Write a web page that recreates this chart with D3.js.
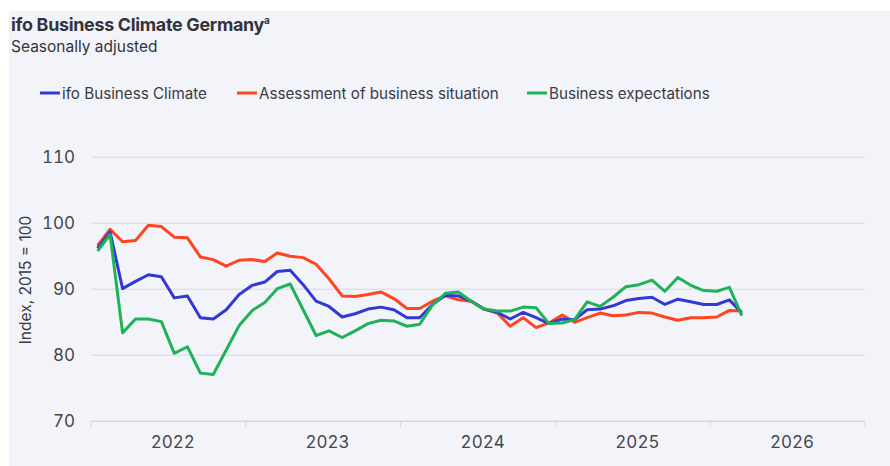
<!DOCTYPE html>
<html>
<head>
<meta charset="utf-8">
<script src="https://cdn.jsdelivr.net/npm/d3@7"></script>
<style>
  body { margin: 0; background: #fff; }
  svg { display: block; font-family: Inter, "Noto Sans", sans-serif; }
  .num { font-variant-numeric: tabular-nums; font-feature-settings: "tnum" 1; }
</style>
</head>
<body>
<svg id="chart"></svg>
<script>
// Monthly readings, Jan 2022 .. Mar 2026 (index, 2015 = 100)
const startYear = 2022;
const climate = [
  96.2, 98.7, 90.1, 91.2, 92.2, 91.9, 88.7, 89.0, 85.7, 85.5, 86.9, 89.2,
  90.6, 91.1, 92.7, 92.9, 90.7, 88.2, 87.4, 85.8, 86.3, 87.0, 87.3, 86.9,
  85.7, 85.7, 87.7, 89.1, 89.0, 88.2, 87.0, 86.5, 85.5, 86.5, 85.7, 84.8,
  85.5, 85.4, 86.9, 87.0, 87.5, 88.3, 88.6, 88.8, 87.7, 88.5, 88.1, 87.7,
  87.7, 88.4, 86.4
];
const situation = [
  96.6, 99.1, 97.2, 97.4, 99.7, 99.5, 97.9, 97.8, 94.9, 94.5, 93.5, 94.4,
  94.5, 94.2, 95.5, 95.0, 94.8, 93.8, 91.6, 89.0, 88.9, 89.2, 89.6, 88.6,
  87.1, 87.1, 88.2, 89.0, 88.4, 88.2, 87.0, 86.4, 84.4, 85.7, 84.2, 84.9,
  86.1, 85.0, 85.7, 86.4, 86.0, 86.1, 86.5, 86.4, 85.8, 85.3, 85.7, 85.7,
  85.8, 86.8, 86.7
];
const expectations = [
  95.8, 98.3, 83.4, 85.5, 85.5, 85.1, 80.3, 81.3, 77.3, 77.1, 80.8, 84.5,
  86.8, 88.0, 90.1, 90.8, 86.9, 83.0, 83.7, 82.7, 83.7, 84.8, 85.3, 85.2,
  84.4, 84.7, 87.6, 89.4, 89.6, 88.2, 87.0, 86.7, 86.7, 87.3, 87.2, 84.8,
  84.9, 85.4, 88.1, 87.4, 88.8, 90.4, 90.7, 91.4, 89.7, 91.8, 90.6, 89.8,
  89.7, 90.3, 86.0
];
const yTicks = [70, 80, 90, 100, 110];
const years = [2022, 2023, 2024, 2025, 2026];

const series = [
  { name: "Assessment of business situation", values: situation, color: "#ff4421" },
  { name: "ifo Business Climate", values: climate, color: "#3438d4" },
  { name: "Business expectations", values: expectations, color: "#20b25a" }
];
const legendOrder = [series[1], series[0], series[2]];

const W = 890, H = 466;
const margin = { top: 157, right: 25, bottom: 45, left: 91 };

const svg = d3.select("#chart").attr("width", W).attr("height", H);

// panel background
svg.append("rect")
  .attr("x", 9).attr("y", 11)
  .attr("width", W - 9).attr("height", H - 11)
  .attr("fill", "#f3f4f9");

// title
const title = svg.append("text")
  .attr("x", 11).attr("y", 31)
  .attr("fill", "#33343d")
  .attr("font-size", 17.9)
  .attr("font-weight", 700)
  .attr("letter-spacing", -0.3)
  .text("ifo Business Climate Germany");
title.append("tspan")
  .attr("font-size", 10)
  .attr("dy", -7)
  .text("a");

svg.append("text")
  .attr("x", 11).attr("y", 52)
  .attr("fill", "#33343d")
  .attr("font-size", 15.5)
  .text("Seasonally adjusted");

// legend
const legendX = [40, 237, 527];
const legend = svg.selectAll(".legend")
  .data(legendOrder)
  .enter()
  .append("g")
  .attr("class", "legend")
  .attr("transform", (d, i) => `translate(${legendX[i]},93)`);
legend.append("line")
  .attr("x1", 0).attr("x2", 20)
  .attr("stroke", (d) => d.color)
  .attr("stroke-width", 3);
legend.append("text")
  .attr("x", 22).attr("y", 6)
  .attr("fill", "#3a3b44")
  .attr("font-size", 15.2)
  .text((d) => d.name);

// scales
const x = d3.scaleTime()
  .domain([new Date(2022, 0, 1), new Date(2027, 0, 1)])
  .range([margin.left, W - margin.right]);

const y = d3.scaleLinear()
  .domain([70, 110])
  .range([421.3, 157.3]);

const dateOf = (i) => {
  const a = new Date(startYear, i, 1), b = new Date(startYear, i + 1, 1);
  return new Date((+a + +b) / 2);
};

// gridlines
svg.append("g")
  .selectAll("line")
  .data(yTicks)
  .enter()
  .append("line")
  .attr("x1", x.range()[0]).attr("x2", x.range()[1])
  .attr("y1", (d) => y(d)).attr("y2", (d) => y(d))
  .attr("stroke", (d) => (d === 70 ? "#d6d7de" : "#e0e1e7"))
  .attr("stroke-width", 1.5);

// y axis labels
svg.append("g")
  .selectAll("text")
  .data(yTicks)
  .enter()
  .append("text")
  .attr("class", "num")
  .attr("x", 75)
  .attr("y", (d) => y(d) + 6)
  .attr("text-anchor", "end")
  .attr("fill", "#45464f")
  .attr("font-size", 17)
  .text((d) => d);

svg.append("text")
  .attr("transform", `translate(31,280) rotate(-90)`)
  .attr("text-anchor", "middle")
  .attr("fill", "#3a3b44")
  .attr("font-size", 15.5)
  .text("Index, 2015 = 100");

// x axis: year boundary ticks, labels near the middle of the year
const boundaries = years.concat([years[years.length - 1] + 1]);
svg.append("g")
  .selectAll("line")
  .data(boundaries)
  .enter()
  .append("line")
  .attr("x1", (d) => x(new Date(d, 0, 1)))
  .attr("x2", (d) => x(new Date(d, 0, 1)))
  .attr("y1", y(70)).attr("y2", y(70) + 6)
  .attr("stroke", "#d6d7de")
  .attr("stroke-width", 1);

svg.append("g")
  .selectAll("text")
  .data(years)
  .enter()
  .append("text")
  .attr("class", "num")
  .attr("x", (d) => x(new Date(d, 6, 13)))
  .attr("y", 448)
  .attr("text-anchor", "middle")
  .attr("fill", "#45464f")
  .attr("font-size", 17)
  .text((d) => d);

// lines
const line = d3.line()
  .x((d, i) => x(dateOf(i)))
  .y((d) => y(d));

svg.append("g")
  .selectAll("path")
  .data(series)
  .enter()
  .append("path")
  .attr("fill", "none")
  .attr("stroke", (d) => d.color)
  .attr("stroke-width", 3)
  .attr("stroke-linejoin", "round")
  .attr("d", (d) => line(d.values));
</script>
</body>
</html>
